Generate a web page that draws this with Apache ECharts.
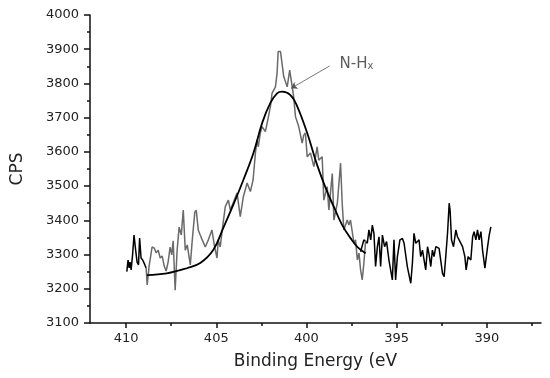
<!DOCTYPE html>
<html><head><meta charset="utf-8">
<script src="https://cdn.jsdelivr.net/npm/echarts@6/dist/echarts.min.js"></script>
<style>html,body{margin:0;padding:0;background:#fff}#c{width:550px;height:378px}</style>
</head><body><div id="c"></div>
<script>
// x tick labels and minor ticks
const xTicks = [390, 395, 400, 405, 410];
const xMinorTicks = [387.5, 392.5, 397.5, 402.5, 407.5];
// raw spectrum, black part at high binding energy
const rawLeftE = [409.96,409.89,409.83,409.78,409.72,409.64,409.56,409.47,409.39,409.31,409.25,409.17,409.08,409.0,408.94,408.89];
const rawLeftC = [3250,3284,3261,3278,3255,3299,3357,3313,3278,3270,3348,3290,3284,3275,3267,3261];
// raw spectrum, grey middle part
const rawMidE = [408.89,408.83,408.72,408.56,408.44,408.33,408.22,408.11,408.0,407.89,407.78,407.67,407.56,407.47,407.39,407.28,407.17,407.06,406.94,406.83,406.72,406.61,406.44,406.33,406.19,406.11,406.0,405.89,405.78,405.61,405.44,405.24,405.11,404.96,404.89,404.78,404.67,404.5,404.33,404.22,404.06,403.85,403.67,403.5,403.29,403.11,402.96,402.83,402.74,402.67,402.56,402.46,402.28,402.18,402.0,401.91,401.72,401.63,401.57,401.44,401.35,401.26,401.07,400.93,400.79,400.71,400.61,400.43,400.33,400.24,400.15,400.06,399.96,399.78,399.59,399.41,399.32,399.13,399.04,398.85,398.76,398.57,398.48,398.29,398.11,398.02,397.93,397.74,397.65,397.56,397.37,397.28,397.18,397.09,397.0,396.91,396.82,396.72];
const rawMidC = [3261,3211,3267,3322,3319,3305,3313,3290,3296,3267,3252,3278,3322,3299,3340,3196,3313,3380,3357,3430,3313,3328,3270,3343,3424,3430,3372,3357,3343,3322,3343,3372,3328,3290,3343,3322,3372,3440,3459,3430,3451,3480,3411,3469,3509,3484,3518,3597,3635,3615,3655,3674,3659,3684,3732,3771,3790,3830,3893,3893,3889,3820,3790,3839,3790,3761,3703,3674,3674,3626,3649,3655,3586,3597,3557,3615,3576,3586,3459,3498,3430,3537,3401,3450,3567,3450,3372,3401,3386,3401,3333,3343,3284,3304,3255,3226,3274,3343];
// raw spectrum, black part at low binding energy
const rawRightE = [397.0,396.82,396.63,396.54,396.44,396.35,396.26,396.17,396.07,395.98,395.89,395.79,395.67,395.56,395.43,395.24,395.15,395.06,394.96,394.82,394.68,394.59,394.41,394.22,394.13,394.04,393.94,393.85,393.76,393.67,393.57,393.48,393.39,393.29,393.2,393.11,393.02,392.93,392.83,392.74,392.65,392.56,392.46,392.37,392.28,392.18,392.09,392.04,391.96,391.85,391.72,391.63,391.54,391.44,391.35,391.22,391.15,391.04,390.89,390.79,390.71,390.61,390.52,390.43,390.33,390.24,390.11,390.04,389.96,389.87,389.78];
const rawRightC = [3308,3343,3333,3372,3343,3386,3362,3265,3323,3352,3265,3357,3323,3338,3284,3226,3343,3226,3294,3343,3347,3333,3265,3216,3274,3362,3333,3328,3343,3294,3313,3284,3255,3323,3299,3265,3313,3294,3323,3328,3318,3284,3245,3235,3294,3363,3450,3430,3343,3323,3372,3352,3343,3343,3323,3294,3255,3294,3284,3352,3367,3343,3372,3343,3367,3313,3260,3255,3323,3357,3381];
// fitted N-Hx component
const fitE = [408.85,407.74,406.63,405.89,405.17,404.61,404.06,403.5,402.94,402.44,402.0,401.63,401.35,400.89,400.52,399.96,399.41,398.85,398.48,398.02,397.56,397.17,396.72];
const fitC = [3240,3245,3260,3275,3313,3378,3445,3518,3597,3687,3743,3771,3776,3766,3734,3655,3562,3483,3439,3386,3348,3322,3304];
// annotation
const annoLabel = 'N-H';
const annoSub = 'x';
const annoFrom = [398.72, 3851];
const annoTo = [400.85, 3786];
const annoText = [398.17, 3857];

const pair = (a, b) => a.map((v, i) => [v, b[i]]);
const FONT = 'DejaVu Sans';
const gridBox = {left: 90, right: 9, top: 15, bottom: 55};
const axisColor = '#111';

const chart = echarts.init(document.getElementById('c'), null, {renderer: 'canvas'});
chart.setOption({
  animation: false,
  backgroundColor: '#fff',
  grid: [Object.assign({}, gridBox), Object.assign({}, gridBox)],
  xAxis: [{
    gridIndex: 0, type: 'value', min: 387, max: 412, inverse: true,
    name: 'Binding Energy (eV', nameLocation: 'middle', nameGap: 30,
    nameTextStyle: {fontFamily: FONT, fontSize: 17, color: '#222'},
    axisLine: {show: true, onZero: false, lineStyle: {color: axisColor, width: 1.5}},
    axisTick: {show: true, customValues: xTicks, length: 5, lineStyle: {color: axisColor, width: 1.5}},
    axisLabel: {customValues: xTicks, fontFamily: FONT, fontSize: 13, color: '#222', margin: 9,
      formatter: v => String(v)},
    splitLine: {show: false}
  }, {
    gridIndex: 1, type: 'value', min: 387, max: 412, inverse: true, position: 'bottom',
    axisLine: {show: false, onZero: false},
    axisTick: {show: true, customValues: xMinorTicks, length: 3, lineStyle: {color: axisColor, width: 1.5}},
    axisLabel: {show: false},
    splitLine: {show: false}
  }],
  yAxis: [{
    gridIndex: 0, type: 'value', min: 3100, max: 4000, interval: 100,
    name: 'CPS', nameLocation: 'middle', nameGap: 64,
    nameTextStyle: {fontFamily: FONT, fontSize: 17, color: '#222'},
    axisLine: {show: true, lineStyle: {color: axisColor, width: 1.5}},
    axisTick: {show: true, length: 6, lineStyle: {color: axisColor, width: 1.5}},
    minorTick: {show: true, splitNumber: 2, length: 3, lineStyle: {color: axisColor, width: 1.5}},
    axisLabel: {fontFamily: FONT, fontSize: 13, color: '#222', margin: 11,
      formatter: v => String(v)},
    splitLine: {show: false}
  }, {
    gridIndex: 1, type: 'value', min: 3100, max: 4000, show: false
  }],
  series: [
    {type: 'line', data: pair(rawLeftE, rawLeftC), showSymbol: false, lineStyle: {color: '#000', width: 1.5}},
    {type: 'line', data: pair(rawRightE, rawRightC), showSymbol: false, lineStyle: {color: '#000', width: 1.5}},
    {type: 'line', data: pair(rawMidE, rawMidC), showSymbol: false, lineStyle: {color: '#6a6a6a', width: 1.5}},
    {type: 'line', data: pair(fitE, fitC), showSymbol: false, smooth: 0.4, lineStyle: {color: '#000', width: 1.8},
     markLine: {silent: true, symbolSize: 6, label: {show: false},
       lineStyle: {color: '#555', width: 0.8, type: 'solid'},
       data: [[{coord: annoFrom, symbol: 'none'}, {coord: annoTo, symbol: 'arrow'}]]}},
    {type: 'scatter', data: [annoText], symbolSize: 0, silent: true,
     label: {show: true, position: 'right', distance: 0,
       formatter: '{a|' + annoLabel + '}{b|' + annoSub + '}',
       rich: {a: {fontFamily: FONT, fontSize: 15, color: '#333', verticalAlign: 'bottom'},
              b: {fontFamily: FONT, fontSize: 10, color: '#333', verticalAlign: 'bottom'}}}}
  ]
});
</script></body></html>
